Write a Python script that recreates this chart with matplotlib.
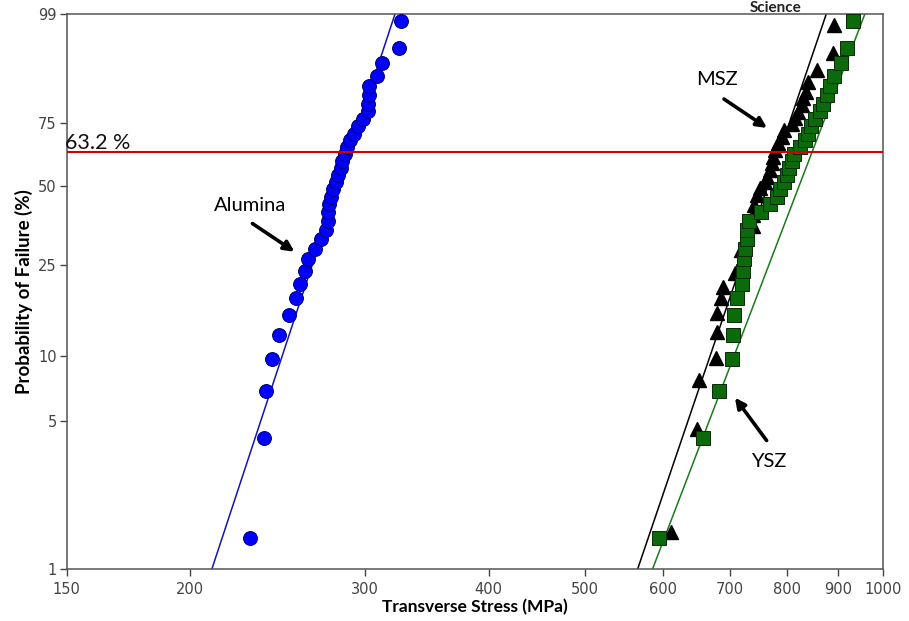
import matplotlib
matplotlib.use("Agg")
import matplotlib.pyplot as plt
import numpy as np

plt.rcParams['font.family'] = ['Lato', 'DejaVu Sans']

# Weibull probability plot data
# (stress in MPa, probability of failure in %)
ALUMINA_STRESS = [229.8, 237.3, 238.5, 241.8, 245.8, 251.5, 255.7, 258.3, 261.1, 262.9,
                  266.9, 271.0, 274.1, 275.2, 275.6, 276.2, 277.3, 278.8, 280.6, 282.1,
                  283.5, 284.8, 286.2, 287.8, 289.8, 292.2, 295.3, 298.7, 301.9, 302.4,
                  302.9, 303.2, 308.4, 312.4, 324.8, 326.3]
ALUMINA_PF = [1.4, 4.2, 6.9, 9.7, 12.5, 15.3, 18.1, 20.8, 23.6, 26.4,
              29.2, 31.9, 34.7, 37.5, 40.3, 43.1, 45.8, 48.6, 51.4, 54.2,
              56.9, 59.7, 62.5, 65.3, 68.1, 70.8, 73.6, 76.4, 79.2, 81.9,
              84.7, 87.5, 90.3, 93.1, 95.8, 98.6]

MSZ_STRESS = [610.6, 649.5, 652.1, 678.4, 679.5, 680.5, 686.3, 690.0, 709.0, 719.0,
              738.5, 740.1, 741.0, 745.7, 751.4, 760.2, 764.3, 769.1, 772.1, 775.0,
              778.1, 784.0, 790.3, 794.5, 808.8, 815.1, 821.4, 827.9, 831.0, 835.6,
              840.7, 858.4, 890.9, 893.0]
MSZ_PF = [1.5, 4.6, 7.8, 9.8, 12.8, 15.6, 18.2, 20.2, 23.2, 28.8,
          35.8, 39.4, 42.8, 46.4, 49.1, 51.4, 53.4, 56.1, 58.8, 61.4,
          64.2, 66.9, 69.5, 72.2, 74.5, 76.7, 79.1, 81.5, 83.7, 85.8,
          88.7, 91.6, 95.0, 98.3]

YSZ_STRESS = [594.3, 657.7, 683.6, 703.6, 706.2, 707.4, 713.1, 720.1, 722.8, 724.0,
              725.7, 728.5, 729.5, 732.9, 752.6, 769.1, 782.2, 787.2, 794.5, 799.5,
              803.8, 808.8, 813.2, 824.6, 834.2, 840.1, 846.0, 853.9, 863.8, 870.5,
              878.6, 884.1, 893.0, 907.0, 920.4, 933.3]
YSZ_PF = ALUMINA_PF

# Weibull fits: (modulus m, characteristic strength sigma0)
FITS = {"Alumina": (14.40, 289.4), "MSZ": (13.98, 785.8), "YSZ": (12.42, 847.8)}

X_TICKS = [150, 200, 300, 400, 500, 600, 700, 800, 900, 1000]
Y_TICKS = [1, 5, 10, 25, 50, 75, 99]


def weibull_fwd(p):
    p = np.clip(np.asarray(p, dtype=float), 1e-6, 100 - 1e-6)
    return np.log(-np.log(1 - p / 100.0))


def weibull_inv(w):
    return 100.0 * (1 - np.exp(-np.exp(w)))


def fit_line(m, s0):
    pf = np.array([0.5, 99.7])
    stress = s0 * (-np.log(1 - pf / 100.0)) ** (1.0 / m)
    return stress, pf


fig = plt.figure(figsize=(9.09, 6.21), dpi=100)
ax = fig.add_axes([0.0732, 0.0837, 0.8982, 0.8937])

ax.set_xscale("log")
ax.set_yscale("function", functions=(weibull_fwd, weibull_inv))
ax.set_xlim(150, 1000)
ax.set_ylim(1, 99)

# fitted lines
x, y = fit_line(*FITS["Alumina"])
ax.plot(x, y, color="#1414b4", lw=1.1, zorder=2)
x, y = fit_line(*FITS["MSZ"])
ax.plot(x, y, color="black", lw=1.1, zorder=2)
x, y = fit_line(*FITS["YSZ"])
ax.plot(x, y, color="#1a7a1a", lw=1.1, zorder=2)

# data points
ax.plot(ALUMINA_STRESS, ALUMINA_PF, "o", color="#0000ff", mec="#00006a", mew=0.7,
        ms=10, zorder=3)
ax.plot(MSZ_STRESS, MSZ_PF, "^", color="black", mec="black", ms=9.5, zorder=3)
ax.plot(YSZ_STRESS, YSZ_PF, "s", color="#0b6b0b", mec="#0a2a0a", mew=0.7,
        ms=10.5, zorder=4)

# 63.2 % line
ax.axhline(63.2, color="#d40000", lw=1.5, zorder=5)
ax.text(149.5, 67.2, "63.2 %", fontsize=15.5, va="center", ha="left", color="#111111")

# annotations
arrow = dict(arrowstyle="-|>", color="black", lw=2.6, mutation_scale=15)
ax.text(229.8, 42.5, "Alumina", fontsize=14.5, ha="center", va="center")
ax.annotate("", xy=(256.1, 28.0), xytext=(229.8, 37.1), arrowprops=arrow)
ax.text(679.5, 89.2, "MSZ", fontsize=14.5, ha="center", va="center")
ax.annotate("", xy=(767.8, 72.4), xytext=(687.4, 84.0), arrowprops=arrow)
ax.text(767.3, 3.23, "YSZ", fontsize=14.5, ha="center", va="center")
ax.annotate("", xy=(706.2, 6.6), xytext=(766.0, 3.97), arrowprops=arrow)

# axes cosmetics
ax.set_xticks(X_TICKS)
ax.set_xticklabels([str(t) for t in X_TICKS])
ax.xaxis.set_minor_locator(matplotlib.ticker.NullLocator())
ax.set_yticks(Y_TICKS)
ax.set_yticklabels([str(t) for t in Y_TICKS])
ax.yaxis.set_minor_locator(matplotlib.ticker.NullLocator())
for lab in ax.get_xticklabels() + ax.get_yticklabels():
    lab.set_family(['Liberation Sans Narrow', 'DejaVu Sans'])
    lab.set_fontsize(10.5)
    lab.set_color("#222222")
ax.tick_params(direction="out", length=5, width=1, colors="#444444", pad=2)
ax.tick_params(axis="x", pad=4)
for sp in ax.spines.values():
    sp.set_color("#555555")
    sp.set_linewidth(1.1)

ax.set_xlabel("Transverse Stress (MPa)", fontsize=12.5, fontweight="bold", labelpad=2)
ax.set_ylabel("Probability of Failure (%)", fontsize=13.5, fontweight="bold", labelpad=4)

# heading that sits cropped at the top edge of the image
fig.text(0.853, 0.999, "Science", fontsize=11, fontweight="bold", color="#222222",
         ha="center", va="top")

fig.savefig("out.png", dpi=100)
